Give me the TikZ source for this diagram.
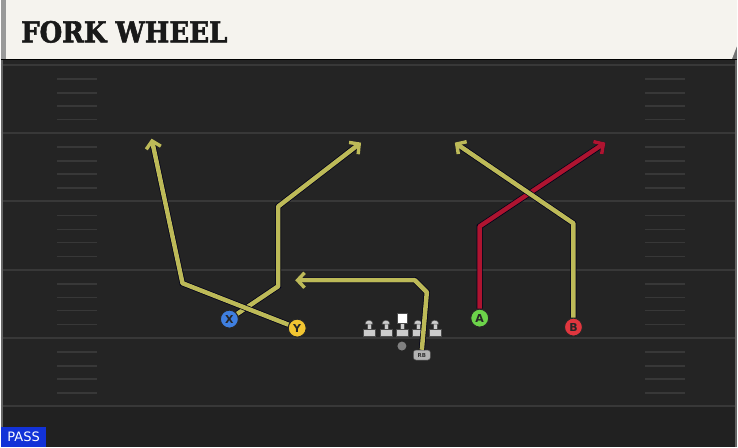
\documentclass[tikz,border=0pt]{standalone}
\usepackage{fontspec}
\setmainfont{DejaVu Sans}
\newfontfamily\titlefont[BoldFeatures={FakeBold=2}]{DejaVu Serif}
\usetikzlibrary{arrows.meta}
\definecolor{fieldbg}{HTML}{242424}
\definecolor{fieldline}{HTML}{383838}
\definecolor{headbg}{HTML}{F5F3EE}
\definecolor{routeyel}{HTML}{BDBA58}
\definecolor{routered}{HTML}{AE1430}
\definecolor{xblue}{HTML}{3F7FE0}
\definecolor{yyel}{HTML}{F2C531}
\definecolor{agreen}{HTML}{6CD34A}
\definecolor{bred}{HTML}{E0363E}
\definecolor{passblue}{HTML}{1232D8}

\begin{document}
\begin{tikzpicture}[x=1pt,y=-1pt,
  player/.style={circle,draw=black!85,line width=1pt,minimum size=18pt,inner sep=0pt,
    font=\fontsize{11}{11}\selectfont\bfseries,text=black!85},
  route/.style={line width=4.5pt,line join=round,
    preaction={draw=black!90!blue,line width=6pt},
    -{Straight Barb[length=7pt,width=15pt,line width=3.5pt]}},
  hash/.style={fieldline,line width=1.6pt},
  lineman/.style={fill=black!20,draw=black!70,line width=0.5pt}]
          % field
          \fill[fieldbg] (0,0) rectangle (738,448);
          \fill[black!87] (0,408) rectangle (738,448);
          \foreach \i in {0,...,5}
            \draw[fieldline,line width=2pt] (0,{65+68.5*\i}) -- (738,{65+68.5*\i});
          \foreach \i in {0,...,4}
            \foreach \d in {14,28,41,55} {
              \draw[hash] (56,{65+68.5*\i+\d}) -- (96,{65+68.5*\i+\d});
              \draw[hash] (646,{65+68.5*\i+\d}) -- (686,{65+68.5*\i+\d});
            }
          \draw[black!60,line width=1.5pt] (1,60) -- (1,448);
          \draw[black!60,line width=1.5pt] (737,60) -- (737,448);
          % header
          \fill[black!55] (726,40) rectangle (738,60);
          \fill[headbg] (0,0) -- (738,0) -- (738,46) -- (733,59) -- (0,59) -- cycle;
          \fill[black!40] (0,0) rectangle (5,59);
          \draw[black,line width=1.5pt] (0,59.5) -- (738,59.5);
          \node[anchor=west,inner sep=0pt,xscale=0.9,text=black!90] (Title) at (20,32)
            {\titlefont\fontsize{29}{29}\selectfont\bfseries FORK WHEEL};
          % line
          \foreach \x in {369,386,418,435} {
            \draw[lineman] (\x-6,330) rectangle (\x+6,337);
            \draw[lineman] (\x-2,324) rectangle (\x+2,330);
            \draw[lineman] (\x-4,325) arc (180:360:4) -- cycle;
          }
          \draw[lineman] (396,330) rectangle (408,337);
          \draw[lineman] (400,323) rectangle (404,330);
          \draw[fill=white,draw=black!70,line width=0.5pt] (397,314) rectangle (407,324);
          \node[circle,fill=black!50,minimum size=9pt,inner sep=0pt] (QB) at (402,347) {};
          % players
          \node[player,fill=xblue] (X) at (229,320) {X};
          \node[player,fill=yyel] (Y) at (297,329) {Y};
          \node[player,fill=agreen] (A) at (480,319) {A};
          \node[player,fill=bred] (B) at (574,328) {B};
          \node[rounded corners=2.5pt,fill=black!30,draw=black!70,line width=0.5pt,
            minimum width=17pt,minimum height=10pt,inner sep=0pt,
            font=\fontsize{5.5}{5.5}\selectfont\bfseries,text=black!80] (RB) at (422,356) {RB};
          % routes
          \draw[route,routeyel] (X) -- (278,287) -- (278,207) -- (361,143);
          \draw[route,routeyel] (Y) -- (182,284) -- (151,139);
          \draw[route,routeyel] (RB.north) -- (427,293) -- (415,281) -- (295,281);
          \draw[route,routered] (A) -- (480,227) -- (606,143);
          \draw[route,routeyel] (B) -- (574,224) -- (455,143);
          % play type
          \node[fill=passblue,text=white,anchor=south west,minimum width=45pt,minimum height=20pt,
            inner sep=0pt,font=\fontsize{13}{13}\selectfont] (Pass) at (0,448) {PASS};
        \end{tikzpicture}
\end{document}
